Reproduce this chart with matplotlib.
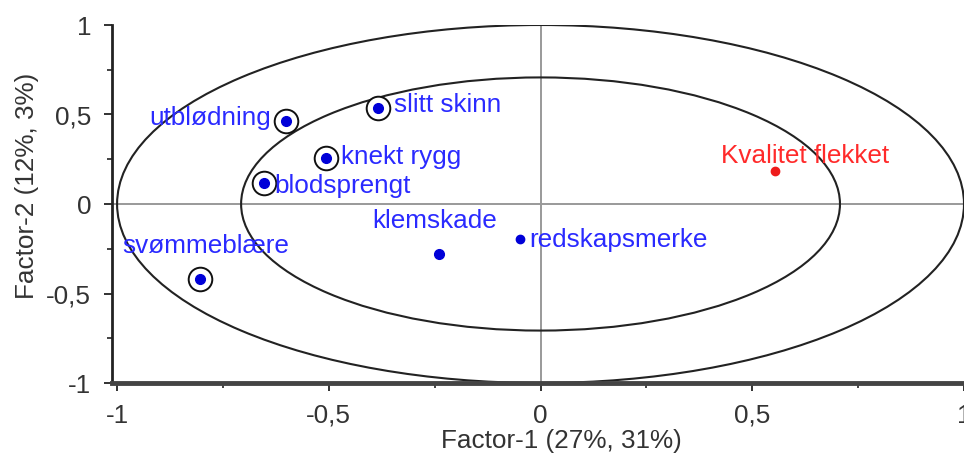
import numpy as np
import matplotlib
matplotlib.use('Agg')
import matplotlib.pyplot as plt
from matplotlib.patches import Ellipse

plt.rcParams['font.family'] = ['Liberation Sans', 'DejaVu Sans']

# correlation loadings
names = ['utblødning', 'slitt skinn', 'knekt rygg', 'blodsprengt',
         'svømmeblære', 'klemskade', 'redskapsmerke', 'Kvalitet flekket']
factor1 = [-0.60, -0.384, -0.506, -0.654, -0.805, -0.24, -0.049, 0.553]
factor2 = [0.464, 0.536, 0.257, 0.117, -0.419, -0.279, -0.196, 0.184]
ringed = [True, True, True, True, True, False, False, False]
is_y = [False, False, False, False, False, False, False, True]

xticks = [-1, -0.5, 0, 0.5, 1]
xticklabels = ['-1', '-0,5', '0', '0,5', '1']
yticks = [-1, -0.5, 0, 0.5, 1]
yticklabels = ['-1', '-0,5', '0', '0,5', '1']

# label offsets in pixels (dx, dy) and alignment
offsets = [(-15, 3, 'right'), (16, 3, 'left'), (15, 1, 'left'), (11, -3, 'left'),
           (6, 33, 'center'), (-4, 33, 'center'), (9, -1, 'left'), (30, 15, 'center')]

fs = 18.8

W, H = 964, 461
fig = plt.figure(figsize=(W / 100, H / 100), dpi=100)
ax = fig.add_axes([112 / W, (H - 383) / H, (964 - 112) / W, (383 - 25) / H])
ax.set_xlim(-1.012, 1.0)
ax.set_ylim(-1, 1)

# circles of radius 1 and sqrt(0.5)
for r in [1.0, np.sqrt(0.5)]:
    ax.add_patch(Ellipse((0, 0), 2 * r, 2 * r, fill=False, ec='#222222', lw=1.5, zorder=2))

ax.axhline(0, color='#999999', lw=1.4, zorder=1)
ax.axvline(0, color='#999999', lw=1.4, zorder=1)

for i in range(len(names)):
    col = '#ee1c1c' if is_y[i] else '#0000d8'
    tcol = '#ff2a2a' if is_y[i] else '#2a2aff'
    if ringed[i]:
        ax.plot(factor1[i], factor2[i], 'o', ms=17, mfc='white', mec='#111111', mew=1.4, zorder=3)
    ax.plot(factor1[i], factor2[i], 'o', ms=7 if i < 6 else 6, color=col, zorder=4)
    dx, dy, ha = offsets[i]
    ax.annotate(names[i], (factor1[i], factor2[i]), xytext=(dx, dy), textcoords='offset pixels',
                ha=ha, va='center', color=tcol, fontsize=fs, zorder=5)

ax.spines['top'].set_visible(False)
ax.spines['right'].set_visible(False)
ax.spines['left'].set_color('#222222')
ax.spines['left'].set_linewidth(2)
ax.spines['bottom'].set_color('#444444')
ax.spines['bottom'].set_linewidth(3.5)

ax.set_xticks(xticks)
ax.set_xticklabels(xticklabels)
ax.set_yticks(yticks)
ax.set_yticklabels(yticklabels)
ax.set_xticks(np.arange(-1, 1.01, 0.25), minor=True)
ax.set_yticks(np.arange(-1, 1.01, 0.25), minor=True)
ax.tick_params(which='major', length=6, width=1.3, color='#222222', labelsize=fs,
               labelcolor='#333333', pad=9)
ax.tick_params(which='minor', length=3.5, width=1.2, color='#222222')

fig.text(561 / W, 1 - 441 / H, 'Factor-1 (27%, 31%)', ha='center', va='center',
         fontsize=fs, color='#333333')
fig.text(27 / W, 1 - 186 / H, 'Factor-2 (12%, 3%)', ha='center', va='center',
         rotation=90, fontsize=fs, color='#333333')

fig.savefig('out.png', dpi=100)
